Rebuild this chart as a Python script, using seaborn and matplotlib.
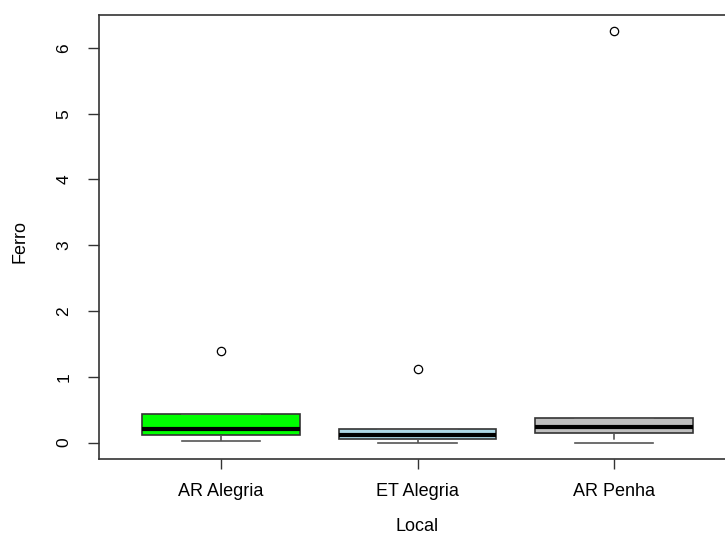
import matplotlib
matplotlib.use("Agg")
import matplotlib.pyplot as plt
import numpy as np
import pandas as pd
import seaborn as sns

# values (one small sample per site)
locais = ["AR Alegria", "ET Alegria", "AR Penha"]
ferro_ar_alegria = [0.02, 0.11, 0.11, 0.21, 0.44, 0.44, 1.39]
ferro_et_alegria = [0.00, 0.05, 0.05, 0.12, 0.21, 0.21, 1.12]
ferro_ar_penha = [0.00, 0.15, 0.15, 0.24, 0.37, 0.37, 6.25]
cores = ["#00FF00", "#ADD8E6", "#BEBEBE"]

df = pd.DataFrame({
    "Local": np.repeat(locais, [len(ferro_ar_alegria), len(ferro_et_alegria), len(ferro_ar_penha)]),
    "Ferro": ferro_ar_alegria + ferro_et_alegria + ferro_ar_penha,
})

plt.rcParams["font.family"] = ["Liberation Sans", "DejaVu Sans"]

fig = plt.figure(figsize=(7.25, 5.36), dpi=100)
ax = fig.add_axes([99 / 725, 77 / 536, 637 / 725, 444 / 536])

sns.boxplot(
    data=df, x="Local", y="Ferro", hue="Local", order=locais, hue_order=locais,
    palette=cores, saturation=1, legend=False, width=0.8, whis=1.5, ax=ax,
    boxprops=dict(edgecolor="#333333", linewidth=1.2),
    medianprops=dict(color="black", linewidth=3),
    whiskerprops=dict(color="#555555", linestyle=(0, (4, 3)), linewidth=1.2),
    capprops=dict(color="#555555", linewidth=1.2),
    flierprops=dict(marker="o", markerfacecolor="none", markeredgecolor="black",
                    markersize=6, markeredgewidth=0.9),
)

ax.set_xlim(-0.62, 2.62)
ax.set_ylim(-0.25, 6.5)
ax.set_yticks(range(0, 7))
ax.tick_params(axis="y", direction="out", length=8, width=1, color="#333333",
               labelsize=12.5, pad=12, labelrotation=90)
for lab in ax.get_yticklabels():
    lab.set_va("center")
ax.tick_params(axis="x", direction="out", length=7, width=1, color="#333333",
               labelsize=13, pad=10)

for side in ["left", "bottom", "top", "right"]:
    ax.spines[side].set_color("#333333")
    ax.spines[side].set_linewidth(1.2)

ax.set_xlabel("Local", fontsize=13)
ax.set_ylabel("Ferro", fontsize=13)
ax.xaxis.set_label_coords(0.5, -0.153)
ax.xaxis.label.set_va("center")
ax.yaxis.set_label_coords(-0.124, 0.49)
ax.yaxis.label.set_va("center")

fig.savefig("out.png", dpi=100)
